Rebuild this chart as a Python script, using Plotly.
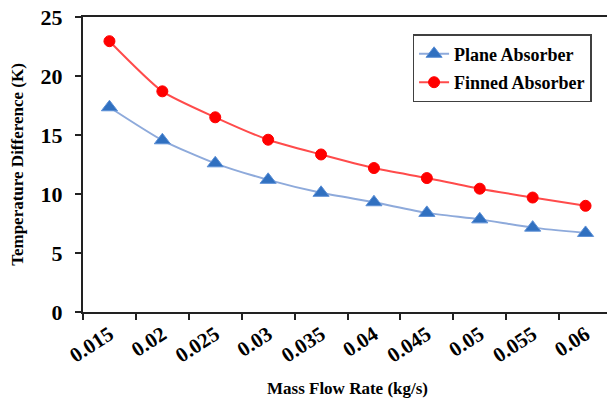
import plotly.graph_objects as go

flow_rate = ["0.015", "0.02", "0.025", "0.03", "0.035", "0.04", "0.045", "0.05", "0.055", "0.06"]
plane_absorber = [17.35, 14.55, 12.6, 11.2, 10.1, 9.3, 8.4, 7.85, 7.15, 6.7]
finned_absorber = [22.95, 18.7, 16.5, 14.6, 13.35, 12.2, 11.35, 10.45, 9.7, 9.0]

FONT = "Liberation Serif"

fig = go.Figure()
fig.add_trace(go.Scatter(
    x=flow_rate, y=plane_absorber, name="Plane Absorber",
    mode="lines+markers", legendgroup="a",
    line=dict(color="#8EAADB", width=2, shape="spline", smoothing=0.6),
    marker=dict(symbol="triangle-up", size=14, color="#3070C0",
                line=dict(color="#5B8FD6", width=1)),
))
fig.add_trace(go.Scatter(
    x=flow_rate, y=finned_absorber, name="Finned Absorber",
    mode="lines+markers", legendgroup="b",
    line=dict(color="#FF4B4B", width=2, shape="spline", smoothing=0.6),
    marker=dict(symbol="circle", size=11, color="#FF0000",
                line=dict(color="#FF0000", width=1)),
))

# page body has an 8px default margin, so the figure is sized/offset to compensate
fig.update_layout(
    width=607, height=391,
    margin=dict(l=75, r=3, t=9, b=87),
    paper_bgcolor="white", plot_bgcolor="white",
    font=dict(family=FONT, color="black"),
    showlegend=True,
    legend=dict(
        x=0.623, y=0.942, xanchor="left", yanchor="top",
        bgcolor="white", bordercolor="#404040", borderwidth=1.5,
        font=dict(family=FONT, size=18, color="black", weight="bold"),
        tracegroupgap=2, traceorder="grouped",
    ),
    xaxis=dict(
        type="category", range=[-0.5, 9.5], automargin=False,
        showline=True, linecolor="#222222", linewidth=2, mirror=True,
        ticks="outside", tickson="boundaries", ticklen=6, tickwidth=2, tickcolor="#222222",
        tickangle=-33, showgrid=False,
        tickfont=dict(family=FONT, size=21, color="black", weight="bold"),
        title=dict(text="<b>Mass Flow Rate (kg/s)</b>", font=dict(family=FONT, size=17, color="black"),
                   standoff=16),
    ),
    yaxis=dict(
        range=[0, 25], dtick=5, automargin=False, ticklabeloverflow="allow",
        showline=True, linecolor="#222222", linewidth=2, mirror=True,
        ticks="outside", ticklen=6, tickwidth=2, tickcolor="#222222",
        showgrid=False, zeroline=False, ticklabelstandoff=8,
        tickfont=dict(family=FONT, size=22, color="black", weight="bold"),
        title=dict(text="<b>Temperature Difference (K)</b>", font=dict(family=FONT, size=17, color="black"),
                   standoff=14),
    ),
)

fig.write_html("out.html")
